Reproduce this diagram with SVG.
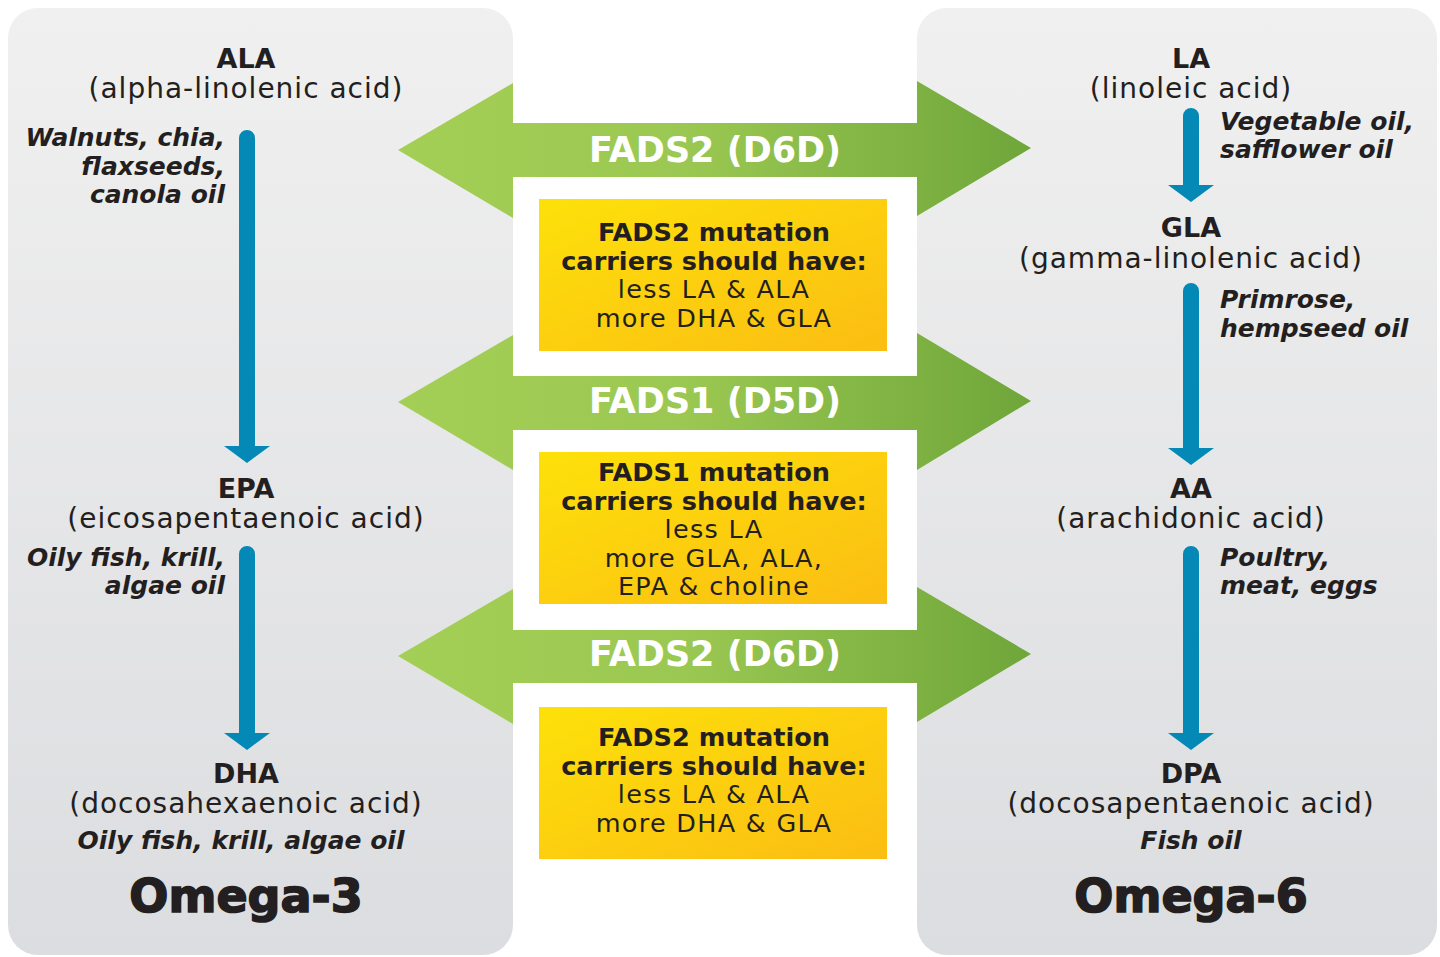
<svg xmlns="http://www.w3.org/2000/svg" width="1440" height="957" viewBox="0 0 1440 957">
<defs>
<linearGradient id="panel" x1="0" y1="0" x2="0" y2="1"><stop offset="0" stop-color="#f0f0f0"/><stop offset="1" stop-color="#dcdde0"/></linearGradient>
<linearGradient id="green" gradientUnits="userSpaceOnUse" x1="398" y1="0" x2="1031" y2="0"><stop offset="0" stop-color="#a4cf56"/><stop offset="0.45" stop-color="#9bc852"/><stop offset="1" stop-color="#6fa63a"/></linearGradient>
<linearGradient id="yellow" x1="0" y1="0" x2="1" y2="1"><stop offset="0" stop-color="#fde10a"/><stop offset="1" stop-color="#fbbd13"/></linearGradient>
<style>
text{font-family:"DejaVu Sans","Liberation Sans",sans-serif;fill:#231f20}
.nm{font-size:27px;font-weight:bold;text-anchor:middle}
.full{font-size:28px;letter-spacing:1px;text-anchor:middle}
.food{font-size:25px;font-weight:bold;font-style:italic}
.end{text-anchor:end}
.mid{text-anchor:middle}
.omega{font-size:46px;font-weight:900;text-anchor:middle;stroke:#231f20;stroke-width:1.6}
.enz{font-size:35px;font-weight:bold;fill:#ffffff;text-anchor:middle}
.bh{font-size:25.6px;font-weight:bold;text-anchor:middle}
.br{font-size:25.5px;letter-spacing:1.3px;text-anchor:middle}
.blue{fill:#0489b6}
.box{fill:url(#yellow)}
.garrow{fill:url(#green)}
</style>
</defs>
<rect width="1440" height="957" fill="#ffffff"/>
<g id="omega3-panel"><rect x="8" y="8" width="505" height="947" rx="30" fill="url(#panel)"/></g>
<g id="omega6-panel"><rect x="917" y="8" width="520" height="947" rx="30" fill="url(#panel)"/></g>

<g id="connectors">
<path class="blue" d="M239,138 A8,8 0 0 1 255,138 V446 H270 L247,463 L224,446 H239 Z"/>
<path class="blue" d="M239,554 A8,8 0 0 1 255,554 V733 H270 L247,750 L224,733 H239 Z"/>
<path class="blue" d="M1183,116 A8,8 0 0 1 1199,116 V185 H1214 L1191,202 L1168,185 H1183 Z"/>
<path class="blue" d="M1183,291 A8,8 0 0 1 1199,291 V448 H1214 L1191,465 L1168,448 H1183 Z"/>
<path class="blue" d="M1183,554 A8,8 0 0 1 1199,554 V733 H1214 L1191,750 L1168,733 H1183 Z"/>
</g>

<g id="fads2-top">
<polygon class="garrow" points="398,150 513,83 513,123 917,123 917,81 1031,148 917,216 917,177 513,177 513,218"/>
<text class="enz" x="715" y="162">FADS2 (D6D)</text>
</g>
<g id="fads1">
<polygon class="garrow" points="398,402 513,335 513,376 917,376 917,333 1031,401 917,470 917,430 513,430 513,470"/>
<text class="enz" x="715" y="413">FADS1 (D5D)</text>
</g>
<g id="fads2-bottom">
<polygon class="garrow" points="398,656 513,589 513,630 917,630 917,587 1031,654 917,722 917,683 513,683 513,724"/>
<text class="enz" x="715" y="666">FADS2 (D6D)</text>
</g>

<g id="box1">
<rect class="box" x="539" y="199" width="348" height="152"/>
<text class="bh" x="714" y="241">FADS2 mutation</text>
<text class="bh" x="714" y="270">carriers should have:</text>
<text class="br" x="714" y="298">less LA &amp; ALA</text>
<text class="br" x="714" y="327">more DHA &amp; GLA</text>
</g>
<g id="box2">
<rect class="box" x="539" y="452" width="348" height="152"/>
<text class="bh" x="714" y="481">FADS1 mutation</text>
<text class="bh" x="714" y="510">carriers should have:</text>
<text class="br" x="714" y="538">less LA</text>
<text class="br" x="714" y="567">more GLA, ALA,</text>
<text class="br" x="714" y="595">EPA &amp; choline</text>
</g>
<g id="box3">
<rect class="box" x="539" y="707" width="348" height="152"/>
<text class="bh" x="714" y="746">FADS2 mutation</text>
<text class="bh" x="714" y="775">carriers should have:</text>
<text class="br" x="714" y="803">less LA &amp; ALA</text>
<text class="br" x="714" y="832">more DHA &amp; GLA</text>
</g>

<g id="ala">
<text class="nm" x="246" y="68">ALA</text>
<text class="full" x="246" y="98">(alpha-linolenic acid)</text>
<text class="food end" x="225" y="146">Walnuts, chia,</text>
<text class="food end" x="225" y="175">flaxseeds,</text>
<text class="food end" x="225" y="203">canola oil</text>
</g>
<g id="epa">
<text class="nm" x="246" y="498">EPA</text>
<text class="full" x="246" y="528">(eicosapentaenoic acid)</text>
<text class="food end" x="225" y="566">Oily fish, krill,</text>
<text class="food end" x="225" y="594">algae oil</text>
</g>
<g id="dha">
<text class="nm" x="246" y="783">DHA</text>
<text class="full" x="246" y="813">(docosahexaenoic acid)</text>
<text class="food mid" x="241" y="849">Oily fish, krill, algae oil</text>
</g>
<g id="omega3-title"><text class="omega" x="246" y="912">Omega-3</text></g>

<g id="la">
<text class="nm" x="1191" y="68">LA</text>
<text class="full" x="1191" y="98">(linoleic acid)</text>
<text class="food" x="1220" y="130">Vegetable oil,</text>
<text class="food" x="1220" y="158">safflower oil</text>
</g>
<g id="gla">
<text class="nm" x="1191" y="237">GLA</text>
<text class="full" x="1191" y="268">(gamma-linolenic acid)</text>
<text class="food" x="1220" y="308">Primrose,</text>
<text class="food" x="1220" y="337">hempseed oil</text>
</g>
<g id="aa">
<text class="nm" x="1191" y="498">AA</text>
<text class="full" x="1191" y="528">(arachidonic acid)</text>
<text class="food" x="1220" y="566">Poultry,</text>
<text class="food" x="1220" y="594">meat, eggs</text>
</g>
<g id="dpa">
<text class="nm" x="1191" y="783">DPA</text>
<text class="full" x="1191" y="813">(docosapentaenoic acid)</text>
<text class="food mid" x="1191" y="849">Fish oil</text>
</g>
<g id="omega6-title"><text class="omega" x="1191" y="912">Omega-6</text></g>
</svg>
